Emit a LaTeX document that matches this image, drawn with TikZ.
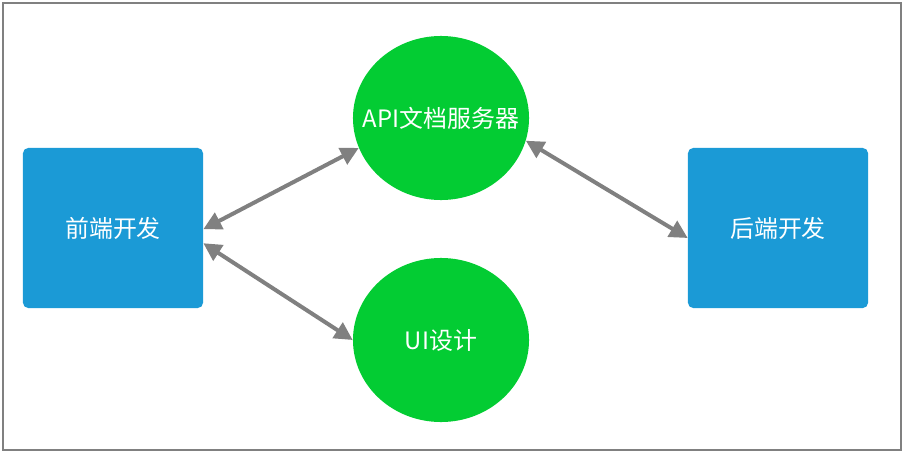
\documentclass[tikz,border=0pt]{standalone}
\usepackage{fontspec}
\setmainfont{Noto Sans CJK SC}
\usetikzlibrary{shapes.geometric,arrows.meta}
\definecolor{boxblue}{RGB}{27,154,214}
\definecolor{nodegreen}{RGB}{3,204,51}
\definecolor{linegray}{RGB}{128,128,128}
\tikzset{
  devbox/.style={fill=boxblue, rounded corners=0.13cm, minimum width=4.5cm, minimum height=4cm, text=white, font=\fontsize{17}{20}\selectfont},
  srvnode/.style={ellipse, fill=nodegreen, inner sep=0pt, minimum width=4.4cm, minimum height=4.1cm},
  srvtext/.style={text=white, font=\fontsize{17}{20}\selectfont},
  link/.style={{Triangle[length=0.45cm,width=0.45cm]}-{Triangle[length=0.45cm,width=0.45cm]}, linegray, line width=0.1cm}
}
\begin{document}
\begin{tikzpicture}[x=0.025cm, y=-0.025cm]
    \useasboundingbox (0,0) rectangle (905,453);
    % 边框
    \draw[linegray, line width=0.05cm] (3,3) rectangle (901,450);

    % 节点
    \node[devbox] (front) at (113,228) {前端开发};
    \node[devbox] (back) at (778,228) {后端开发};
    \node[srvnode, label={[srvtext]center:API文档服务器}] (api) at (441,118) {};
    \node[srvnode, label={[srvtext]center:UI设计}] (ui) at (441,340) {};

    % 连线
    \draw[link] ([yshift=-0.03cm]front.east) -- (api.200);
    \draw[link] ([yshift=-0.38cm]front.east) -- (ui.west);
    \draw[link] (api.-15) -- ([yshift=-0.25cm]back.west);
\end{tikzpicture}
\end{document}
